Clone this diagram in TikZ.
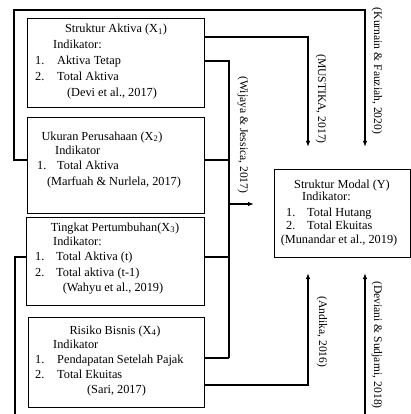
\documentclass[tikz,border=0pt]{standalone}
\usepackage{fontspec}
\setmainfont{Liberation Serif}
\usetikzlibrary{arrows.meta}
\tikzset{
  box/.style={draw, line width=0.9pt, inner sep=0pt},
  conn/.style={line width=1.6pt, line join=miter},
  arr/.style={conn, -{Latex[length=6pt,width=4.5pt]}},
  txt/.style={inner sep=0pt, anchor=base west, font=\fontsize{12.3}{14}\selectfont},
  ttl/.style={inner sep=0pt, anchor=base, font=\fontsize{12.3}{14}\selectfont},
  lab/.style={inner sep=0pt, rotate=-90, font=\fontsize{11.6}{13}\selectfont},
}
\begin{document}
\begin{tikzpicture}[x=1pt,y=-1pt]
\useasboundingbox (0,0) rectangle (411,414);
% boxes
\node[box, minimum width=177pt, minimum height=89pt] (b1) at (115.5,62.5) {};
\node[box, minimum width=177pt, minimum height=96pt] (b2) at (115.5,165) {};
\node[box, minimum width=178pt, minimum height=88pt] (b3) at (115,261) {};
\node[box, minimum width=176pt, minimum height=90pt] (b4) at (116,362) {};
\node[box, minimum width=136pt, minimum height=88pt] (by) at (342,213) {};
% box 1 text
\node[ttl] (b1t) at (116,33) {Struktur Aktiva (X\textsubscript{1})};
\node[txt] (b1i) at (53,49) {Indikator:};
\node[txt] (b1n1) at (35,65) {1.};
\node[txt] (b1a) at (57,65) {Aktiva Tetap};
\node[txt] (b1n2) at (35,81) {2.};
\node[txt] (b1b) at (57,81) {Total Aktiva};
\node[ttl] (b1r) at (112,96.5) {(Devi et al., 2017)};
% box 2 text
\node[ttl] (b2t) at (102,140) {Ukuran Perusahaan (X\textsubscript{2})};
\node[txt] (b2i) at (55,154) {Indikator};
\node[txt] (b2n1) at (37,169) {1.};
\node[txt] (b2a) at (57,169) {Total Aktiva};
\node[ttl] (b2r) at (114,185) {(Marfuah \& Nurlela, 2017)};
% box 3 text
\node[ttl] (b3t) at (115,231) {Tingkat Pertumbuhan(X\textsubscript{3})};
\node[txt] (b3i) at (53,245) {Indikator:};
\node[txt] (b3n1) at (35,260) {1.};
\node[txt] (b3a) at (56,260) {Total Aktiva (t)};
\node[txt] (b3n2) at (35,276) {2.};
\node[txt] (b3b) at (56,276) {Total aktiva (t-1)};
\node[ttl] (b3r) at (113,291) {(Wahyu et al., 2019)};
% box 4 text
\node[ttl] (b4t) at (115,334) {Risiko Bisnis (X\textsubscript{4})};
\node[txt] (b4i) at (53,348) {Indikator};
\node[txt] (b4n1) at (35,363) {1.};
\node[txt] (b4a) at (57,363) {Pendapatan Setelah Pajak};
\node[txt] (b4n2) at (35,378) {2.};
\node[txt] (b4b) at (57,378) {Total Ekuitas};
\node[ttl] (b4r) at (116.5,393) {(Sari, 2017)};
% box Y text
\node[ttl] (byt) at (342,188) {Struktur Modal (Y)};
\node[txt] (byi) at (302,200) {Indikator:};
\node[txt] (byn1) at (286,216) {1.};
\node[txt] (bya) at (307,216) {Total Hutang};
\node[txt] (byn2) at (286,229) {2.};
\node[txt] (byb) at (307,229) {Total Ekuitas};
\node[ttl] (byr) at (339,243) {(Munandar et al., 2019)};
% junction coordinates
\coordinate (kA) at (14,160);
\coordinate (kB) at (14,10);
\coordinate (kC) at (365,10);
\coordinate (kE) at (365,147);
\coordinate (mA) at (204,37);
\coordinate (mB) at (308,37);
\coordinate (mE) at (308,147);
\coordinate (wTop) at (229,61);
\coordinate (w2) at (229,160);
\coordinate (w3) at (229,257);
\coordinate (wBot) at (229,358);
\coordinate (wM) at (229,204);
\coordinate (wE) at (254,204);
\coordinate (aA) at (204,385);
\coordinate (aB) at (308,385);
\coordinate (aE) at (308,273);
\coordinate (dA) at (15,257);
\coordinate (dB) at (15,425);
\coordinate (dC) at (365,425);
\coordinate (dE) at (365,273);
% connectors
\draw[arr] (b2.west |- kA) -- (kA) -- (kB) -- (kC) -- (kE);
\draw[arr] (b1.east |- mA) -- (mB) -- (mE);
\draw[conn] (b1.east |- wTop) -- (wTop) -- (wBot);
\draw[conn] (b2.east |- w2) -- (w2);
\draw[conn] (b3.east |- w3) -- (w3);
\draw[conn] (b4.east |- wBot) -- (wBot);
\draw[arr] (wM) -- (wE);
\draw[arr] (b4.east |- aA) -- (aB) -- (aE);
\draw[arr] (b3.west |- dA) -- (dA) -- (dB) -- (dC) -- (dE);
% connector labels
\node[lab] (lk) at (377,71) {(Kurnain \& Fauziah, 2020)};
\node[lab] (lm) at (321,99) {(MUSTIKA, 2017)};
\node[lab] (lw) at (243,135) {(Wijaya \& Jessica, 2017)};
\node[lab] (la) at (322,332) {(Andika, 2016)};
\node[lab] (ld) at (377,345) {(Deviani \& Sudjarni, 2018)};
\end{tikzpicture}
\end{document}
